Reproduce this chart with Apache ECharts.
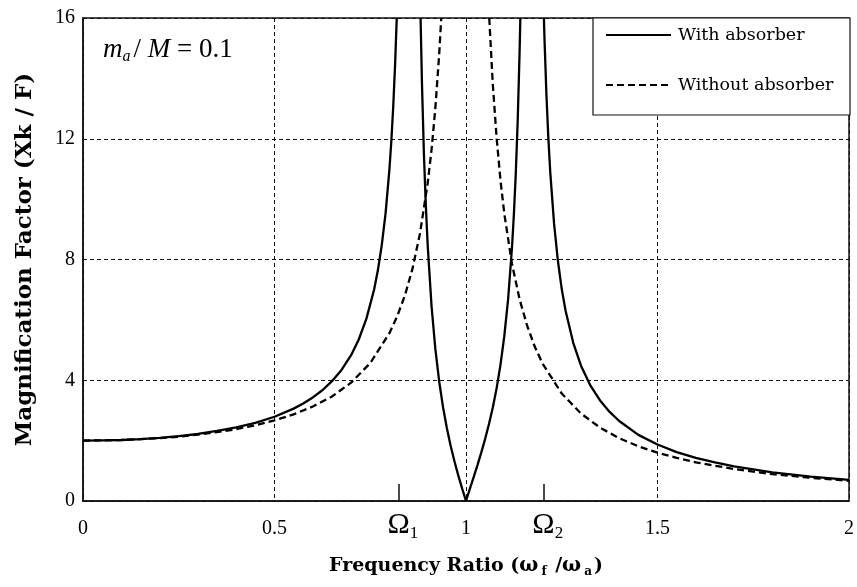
<!DOCTYPE html>
<html><head><meta charset="utf-8">
<script src="https://cdn.jsdelivr.net/npm/echarts@6/dist/echarts.min.js"></script>
<style>html,body{margin:0;padding:0;background:#fff}#c{width:857px;height:587px}</style>
</head><body><div id="c"></div>
<script>
// ---- data ----
const seriesNames = ['With absorber', 'Without absorber'];
const xTickInterval = 0.5;
const yTickInterval = 4;
const omegaTicks = [0.825, 1.203];
const omegaSubs = ['1', '2'];

const withAbsorberLow = [[0,2.00],[0.05,2.01],[0.1,2.02],[0.15,2.05],[0.2,2.09],[0.25,2.15],[0.3,2.22],[0.35,2.32],[0.4,2.44],[0.45,2.59],[0.5,2.79],[0.55,3.06],[0.575,3.23],[0.6,3.43],[0.625,3.67],[0.65,3.97],[0.675,4.34],[0.7,4.83],[0.72,5.35],[0.74,6.04],[0.76,7.00],[0.77,7.65],[0.78,8.47],[0.79,9.53],[0.8,10.98],[0.805,11.91],[0.81,13.06],[0.815,14.50],[0.8192,16]];
const withAbsorberMid = [[0.8814,16],[0.885,13.84],[0.89,11.55],[0.895,9.82],[0.9,8.46],[0.91,6.46],[0.92,5.03],[0.93,3.96],[0.94,3.11],[0.95,2.42],[0.96,1.82],[0.97,1.31],[0.98,0.84],[0.99,0.41],[1,0],[1.01,0.40],[1.02,0.79],[1.03,1.19],[1.04,1.61],[1.05,2.06],[1.06,2.55],[1.07,3.10],[1.08,3.74],[1.09,4.51],[1.1,5.46],[1.11,6.69],[1.12,8.38],[1.125,9.49],[1.13,10.85],[1.135,12.60],[1.14,14.91],[1.1419,16]];
const withAbsorberHigh = [[1.2034,16],[1.205,15.29],[1.21,13.46],[1.215,12.03],[1.22,10.89],[1.23,9.18],[1.24,7.95],[1.25,7.02],[1.26,6.30],[1.28,5.24],[1.3,4.49],[1.325,3.82],[1.35,3.33],[1.375,2.95],[1.4,2.65],[1.45,2.19],[1.5,1.87],[1.55,1.62],[1.6,1.43],[1.65,1.28],[1.7,1.15],[1.8,0.95],[1.9,0.81],[2,0.70]];

const withoutAbsorberLow = [[0,2.00],[0.05,2.01],[0.1,2.02],[0.15,2.05],[0.2,2.08],[0.25,2.13],[0.3,2.20],[0.35,2.28],[0.4,2.38],[0.45,2.51],[0.5,2.67],[0.55,2.87],[0.6,3.13],[0.65,3.46],[0.7,3.92],[0.75,4.57],[0.8,5.56],[0.82,6.11],[0.84,6.79],[0.86,7.68],[0.88,8.87],[0.9,10.53],[0.91,11.63],[0.92,13.02],[0.93,14.80],[0.9354,16]];
const withoutAbsorberHigh = [[1.0607,16],[1.07,13.80],[1.08,12.02],[1.09,10.63],[1.1,9.52],[1.12,7.86],[1.14,6.68],[1.16,5.79],[1.18,5.10],[1.2,4.55],[1.25,3.56],[1.3,2.90],[1.35,2.43],[1.4,2.08],[1.45,1.81],[1.5,1.60],[1.55,1.43],[1.6,1.28],[1.7,1.06],[1.8,0.89],[1.9,0.77],[2,0.67]];

// ---- build ----
const gap = x => [x, '-'];
const withData = [].concat(withAbsorberLow, [gap(0.85)], withAbsorberMid, [gap(1.17)], withAbsorberHigh);
const withoutData = [].concat(withoutAbsorberLow, [gap(1.0)], withoutAbsorberHigh);

const chart = echarts.init(document.getElementById('c'), null, {renderer: 'canvas'});
const serif = 'Liberation Serif';
const wideSerif = 'DejaVu Serif';

chart.setOption({
  animation: false,
  backgroundColor: '#fff',
  grid: {left: 83, right: 7, top: 18, bottom: 86, show: true, borderColor: '#111', borderWidth: 1.5, backgroundColor: 'transparent'},
  xAxis: [{
    type: 'value', min: 0, max: 2, interval: xTickInterval,
    axisLine: {show: true, lineStyle: {color: '#111', width: 1.5}},
    axisTick: {show: false},
    splitLine: {show: true, lineStyle: {color: '#111', width: 1, type: [4, 3]}},
    axisLabel: {color: '#000', fontFamily: serif, fontSize: 20, margin: 18},
    name: '{b|Frequency Ratio (}{w|ω}{s|f}{b| /}{w|ω}{s|a}{b|)}',
    nameLocation: 'middle', nameGap: 53,
    nameTextStyle: {
      color: '#000',
      rich: {
        b: {fontFamily: wideSerif, fontWeight: 'bold', fontSize: 19, lineHeight: 24, color: '#000'},
        w: {fontFamily: wideSerif, fontWeight: 'bold', fontSize: 20, lineHeight: 24, color: '#000', padding: [0, 3, 0, 0]},
        s: {fontFamily: wideSerif, fontWeight: 'bold', fontSize: 12, lineHeight: 8, verticalAlign: 'bottom', color: '#000', padding: [0, 2, 0, 0]}
      }
    }
  }, {
    type: 'value', min: 0, max: 2, position: 'bottom',
    axisLine: {show: false},
    splitLine: {show: false},
    axisTick: {show: true, inside: true, length: 17, customValues: omegaTicks, lineStyle: {color: '#111', width: 1.5}},
    axisLabel: {
      customValues: omegaTicks, margin: 7,
      formatter: function (v) {
        const i = omegaTicks.indexOf(v);
        return '{p| }{o|Ω}{s|' + omegaSubs[i >= 0 ? i : 0] + '}';
      },
      rich: {
        p: {width: 8, fontSize: 10, lineHeight: 10},
        o: {fontFamily: serif, fontSize: 30, lineHeight: 34, color: '#000'},
        s: {fontFamily: serif, fontSize: 17, lineHeight: 6, verticalAlign: 'bottom', color: '#000'}
      }
    }
  }],
  yAxis: {
    type: 'value', min: 0, max: 16, interval: yTickInterval,
    axisLine: {show: true, lineStyle: {color: '#111', width: 1.5}},
    axisTick: {show: false},
    splitLine: {show: true, lineStyle: {color: '#111', width: 1, type: [4, 3]}},
    axisLabel: {color: '#000', fontFamily: serif, fontSize: 20, margin: 8, padding: [10, 0, 0, 0]},
    name: 'Magnification Factor (Xk / F)',
    nameLocation: 'middle', nameGap: 46, nameRotate: 90,
    nameTextStyle: {fontFamily: wideSerif, fontWeight: 'bold', fontSize: 23, color: '#000'}
  },
  legend: {
    data: seriesNames, orient: 'vertical', left: 605, top: 26,
    itemWidth: 65, itemHeight: 18, itemGap: 32, padding: 0, z: 10,
    selectedMode: false,
    itemStyle: {opacity: 0},
    textStyle: {fontFamily: wideSerif, fontSize: 17.5, color: '#000', padding: [0, 0, 0, 2]}
  },
  graphic: [
    {type: 'rect', z: 3, shape: {x: 593, y: 18, width: 257, height: 97}, style: {fill: '#fff', stroke: '#111', lineWidth: 1.2}},
    {type: 'text', z: 3, left: 103, top: 36, style: {
      text: '{i|m}{sub|a}{n|/ }{i|M}{n| = 0.1}',
      rich: {
        i: {fontFamily: serif, fontStyle: 'italic', fontSize: 27, lineHeight: 30, fill: '#000'},
        n: {fontFamily: serif, fontSize: 27, lineHeight: 30, fill: '#000'},
        sub: {fontFamily: serif, fontStyle: 'italic', fontSize: 16, lineHeight: 10, verticalAlign: 'bottom', fill: '#000', padding: [0, 3, 0, 0]}
      }
    }}
  ],
  series: [{
    name: seriesNames[0], type: 'line', data: withData, symbol: 'none', showSymbol: false,
    connectNulls: false, clip: true, z: 3,
    lineStyle: {color: '#000', width: 2.3, type: 'solid'}, itemStyle: {color: '#000'}
  }, {
    name: seriesNames[1], type: 'line', data: withoutData, symbol: 'none', showSymbol: false,
    connectNulls: false, clip: true, z: 3,
    lineStyle: {color: '#000', width: 2.3, type: [7, 4]}, itemStyle: {color: '#000'}
  }]
});
</script></body></html>
